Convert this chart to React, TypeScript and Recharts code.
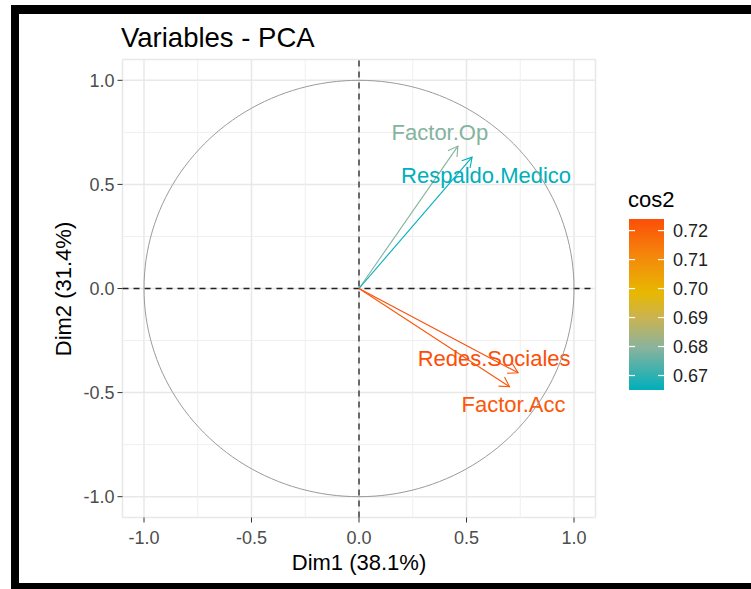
import { ComposedChart, XAxis, YAxis, CartesianGrid, ReferenceLine, Scatter } from "recharts"

// variables of the PCA correlation circle
const VARIABLES = ["Factor.Op", "Respaldo.Medico", "Redes.Sociales", "Factor.Acc"]
const DIM1 = [0.46, 0.526, 0.74, 0.7]
const DIM2 = [0.684, 0.631, -0.405, -0.472]
const COS2 = [0.679, 0.665, 0.724, 0.722]

const AXIS_TICKS = [-1, -0.5, 0, 0.5, 1]
const MINOR_TICKS = [-0.75, -0.25, 0.25, 0.75]
const LEGEND_TICKS = [0.67, 0.68, 0.69, 0.7, 0.71, 0.72]

// label offsets from the arrow tip, px (repel-like placement)
const LABEL_DX = [-18, 14, -24, 4]
const LABEL_DY = [-14, 18, -15, 17]

const GRADIENT: [number, string][] = [
  [0, "#00AFBB"],
  [0.25, "#8BB39C"],
  [0.42, "#C9B352"],
  [0.57, "#E7B800"],
  [0.78, "#F4880C"],
  [1, "#FC4E07"],
]

const FONT = "'Liberation Sans', Arial, sans-serif"

const cosMin = Math.min(...COS2)
const cosMax = Math.max(...COS2)

function hexToRgb(h: string) {
  const n = parseInt(h.slice(1), 16)
  return [(n >> 16) & 255, (n >> 8) & 255, n & 255]
}

function colorFor(v: number) {
  const t = Math.max(0, Math.min(1, (v - cosMin) / (cosMax - cosMin)))
  for (let i = 1; i < GRADIENT.length; i++) {
    const [t1, c1] = GRADIENT[i]
    const [t0, c0] = GRADIENT[i - 1]
    if (t <= t1) {
      const f = (t - t0) / (t1 - t0)
      const a = hexToRgb(c0)
      const b = hexToRgb(c1)
      const rgb = a.map((x, k) => Math.round(x + (b[k] - x) * f))
      return `rgb(${rgb.join(",")})`
    }
  }
  return GRADIENT[GRADIENT.length - 1][1]
}

// unit circle outline
const circle = Array.from({ length: 181 }, (_, i) => {
  const a = (i / 180) * Math.PI * 2
  return { x: Math.cos(a), y: Math.sin(a) }
})

function arrowShape(i: number) {
  const color = colorFor(COS2[i])
  return (p: any) => {
    const { x1, y1, x2, y2 } = p
    const ang = Math.atan2(y2 - y1, x2 - x1)
    const len = 11
    const spread = Math.PI / 6
    const ax = x2 - len * Math.cos(ang - spread)
    const ay = y2 - len * Math.sin(ang - spread)
    const bx = x2 - len * Math.cos(ang + spread)
    const by = y2 - len * Math.sin(ang + spread)
    return (
      <g>
        <line x1={x1} y1={y1} x2={x2} y2={y2} stroke={color} strokeWidth={1.1} />
        <polyline points={`${ax},${ay} ${x2},${y2} ${bx},${by}`} fill="none" stroke={color} strokeWidth={1.1} />
        <text
          x={x2 + LABEL_DX[i]}
          y={y2 + LABEL_DY[i] + 8}
          textAnchor="middle"
          fontSize={22}
          fill={color}
          fontFamily={FONT}
        >
          {VARIABLES[i]}
        </text>
      </g>
    )
  }
}

// colour bar geometry
const BAR_X = 629
const BAR_Y = 219
const BAR_W = 35
const BAR_H = 171
const barY = (v: number) => BAR_Y + BAR_H - ((v - cosMin) / (cosMax - cosMin)) * BAR_H

export default function App() {
  const fmt = (v: number) => v.toFixed(1)
  return (
    <div
      style={{
        position: "absolute",
        left: 0,
        top: 0,
        width: 751,
        height: 589,
        overflow: "hidden",
        fontFamily: FONT,
        background: "#fff",
      }}
    >
      <div
        style={{
          position: "absolute",
          left: 11,
          top: 5,
          width: 740,
          height: 584,
          boxSizing: "border-box",
          borderTop: "9px solid #000",
          borderLeft: "8px solid #000",
          borderBottom: "6px solid #000",
        }}
      />
      <div style={{ position: "absolute", left: 0, top: 0 }}>
        <ComposedChart width={751} height={589} margin={{ top: 59.5, right: 155.5, left: 62.5, bottom: 41.5 }}>
          <CartesianGrid stroke="#e8e8e8" strokeWidth={1.5} />
          {MINOR_TICKS.map((v) => (
            <ReferenceLine key={"vx" + v} x={v} stroke="#efefef" strokeWidth={1} />
          ))}
          {MINOR_TICKS.map((v) => (
            <ReferenceLine key={"hy" + v} y={v} stroke="#efefef" strokeWidth={1} />
          ))}
          <XAxis
            type="number"
            dataKey="x"
            domain={[-1.1, 1.1]}
            ticks={AXIS_TICKS}
            interval={0}
            allowDataOverflow
            tickFormatter={fmt}
            axisLine={false}
            tickLine={{ stroke: "#333" }}
            tickSize={5}
            tickMargin={9}
            height={30}
            tick={{ fill: "#4d4d4d", fontSize: 18 }}
          />
          <YAxis
            type="number"
            dataKey="y"
            domain={[-1.1, 1.1]}
            ticks={AXIS_TICKS}
            interval={0}
            allowDataOverflow
            tickFormatter={fmt}
            axisLine={false}
            tickLine={{ stroke: "#333" }}
            tickSize={5}
            tickMargin={3}
            width={60}
            tick={{ fill: "#4d4d4d", fontSize: 18 }}
          />
          <Scatter
            data={circle}
            line={{ stroke: "#9a9a9a", strokeWidth: 1 }}
            shape={() => <g />}
            isAnimationActive={false}
          />
          <ReferenceLine x={0} stroke="#222" strokeWidth={1.3} strokeDasharray="6 5" />
          <ReferenceLine y={0} stroke="#222" strokeWidth={1.3} strokeDasharray="6 5" />
          {VARIABLES.map((name, i) => (
            <ReferenceLine
              key={name}
              segment={[
                { x: 0, y: 0 },
                { x: DIM1[i], y: DIM2[i] },
              ]}
              shape={arrowShape(i)}
            />
          ))}
        </ComposedChart>
      </div>
      <svg width={751} height={589} style={{ position: "absolute", left: 0, top: 0, pointerEvents: "none" }}>
        <defs>
          <linearGradient id="cosGrad" x1="0" y1="1" x2="0" y2="0">
            {GRADIENT.map(([t, c]) => (
              <stop key={t} offset={t} stopColor={c} />
            ))}
          </linearGradient>
        </defs>
        <text x={121} y={47} fontSize={27.5} fill="#000" fontFamily={FONT}>
          Variables - PCA
        </text>
        <text x={359} y={570} fontSize={22} textAnchor="middle" fill="#000" fontFamily={FONT}>
          Dim1 (38.1%)
        </text>
        <text
          x={0}
          y={0}
          transform="translate(71,289) rotate(-90)"
          fontSize={22}
          textAnchor="middle"
          fill="#000"
          fontFamily={FONT}
        >
          Dim2 (31.4%)
        </text>
        <text x={628} y={207} fontSize={22} fill="#000" fontFamily={FONT}>
          cos2
        </text>
        <rect x={BAR_X} y={BAR_Y} width={BAR_W} height={BAR_H} fill="url(#cosGrad)" />
        {LEGEND_TICKS.map((v) => (
          <g key={v}>
            <line x1={BAR_X} x2={BAR_X + 6} y1={barY(v)} y2={barY(v)} stroke="#fff" strokeWidth={1.2} />
            <line x1={BAR_X + BAR_W - 6} x2={BAR_X + BAR_W} y1={barY(v)} y2={barY(v)} stroke="#fff" strokeWidth={1.2} />
            <text x={673} y={barY(v) + 6.5} fontSize={18} fill="#222" fontFamily={FONT}>
              {v.toFixed(2)}
            </text>
          </g>
        ))}
      </svg>
    </div>
  )
}
